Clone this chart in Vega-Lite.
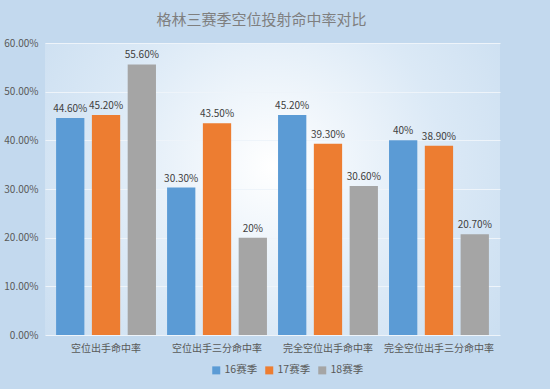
{
  "$schema": "https://vega.github.io/schema/vega-lite/v6.json",
  "width": 455,
  "height": 292,
  "autosize": {"type": "none"},
  "padding": {"left": 45, "top": 43, "right": 50, "bottom": 54},
  "background": "#c3d9ee",
  "title": {
    "text": "格林三赛季空位投射命中率对比",
    "font": "Noto Sans CJK SC",
    "fontSize": 15,
    "fontWeight": "normal",
    "color": "#7f7f7f",
    "anchor": "middle",
    "dx": -11,
    "offset": 10
  },
  "config": {
    "view": {
      "stroke": null,
      "fill": {
        "gradient": "radial",
        "x1": 0.5, "y1": 0.45, "x2": 0.5, "y2": 0.45, "r1": 0, "r2": 0.75,
        "stops": [
          {"offset": 0, "color": "#ffffff"},
          {"offset": 0.5, "color": "#dbe9f6"},
          {"offset": 1, "color": "#c3d9ee"}
        ]
      }
    },
    "font": "Noto Sans CJK SC"
  },
  "data": {
    "values": [
      {"cat": "空位出手命中率", "season": "16赛季", "v": 0.446, "label": "44.60%"},
      {"cat": "空位出手命中率", "season": "17赛季", "v": 0.452, "label": "45.20%"},
      {"cat": "空位出手命中率", "season": "18赛季", "v": 0.556, "label": "55.60%"},
      {"cat": "空位出手三分命中率", "season": "16赛季", "v": 0.303, "label": "30.30%"},
      {"cat": "空位出手三分命中率", "season": "17赛季", "v": 0.435, "label": "43.50%"},
      {"cat": "空位出手三分命中率", "season": "18赛季", "v": 0.2, "label": "20%"},
      {"cat": "完全空位出手命中率", "season": "16赛季", "v": 0.452, "label": "45.20%"},
      {"cat": "完全空位出手命中率", "season": "17赛季", "v": 0.393, "label": "39.30%"},
      {"cat": "完全空位出手命中率", "season": "18赛季", "v": 0.306, "label": "30.60%"},
      {"cat": "完全空位出手三分命中率", "season": "16赛季", "v": 0.4, "label": "40%"},
      {"cat": "完全空位出手三分命中率", "season": "17赛季", "v": 0.389, "label": "38.90%"},
      {"cat": "完全空位出手三分命中率", "season": "18赛季", "v": 0.207, "label": "20.70%"}
    ]
  },
  "encoding": {
    "x": {
      "field": "cat", "type": "nominal", "sort": null,
      "scale": {"paddingInner": 0.1, "paddingOuter": 0.1},
      "axis": {
        "title": null, "labelAngle": 0, "ticks": false, "domain": false,
        "labelFontSize": 10, "labelColor": "#595959", "labelPadding": 8
      }
    },
    "xOffset": {
      "field": "season", "type": "nominal", "sort": null,
      "scale": {"paddingInner": 0.21, "paddingOuter": 0}
    },
    "y": {
      "field": "v", "type": "quantitative",
      "scale": {"domain": [0, 0.6], "nice": false},
      "axis": {
        "title": null, "format": ".2%", "values": [0, 0.1, 0.2, 0.3, 0.4, 0.5, 0.6],
        "labelOverlap": false,
        "domain": false, "ticks": false, "labelPadding": 7,
        "labelFontSize": 10, "labelColor": "#595959",
        "gridColor": "#eef4fa", "gridWidth": 1
      }
    }
  },
  "layer": [
    {
      "mark": {"type": "bar"},
      "encoding": {
        "color": {
          "field": "season", "type": "nominal", "sort": null,
          "scale": {"domain": ["16赛季", "17赛季", "18赛季"], "range": ["#5b9bd5", "#ed7d31", "#a5a5a5"]},
          "legend": {
            "title": null, "orient": "none", "legendX": 166, "legendY": 322,
            "direction": "horizontal",
            "symbolType": "square", "symbolSize": 64, "symbolStrokeWidth": 0,
            "labelFontSize": 10.5, "labelColor": "#595959", "columnPadding": 6, "labelOffset": 3
          }
        }
      }
    },
    {
      "mark": {"type": "text", "dy": -9, "fontSize": 10, "color": "#404040"},
      "encoding": {"text": {"field": "label"}}
    }
  ]
}
